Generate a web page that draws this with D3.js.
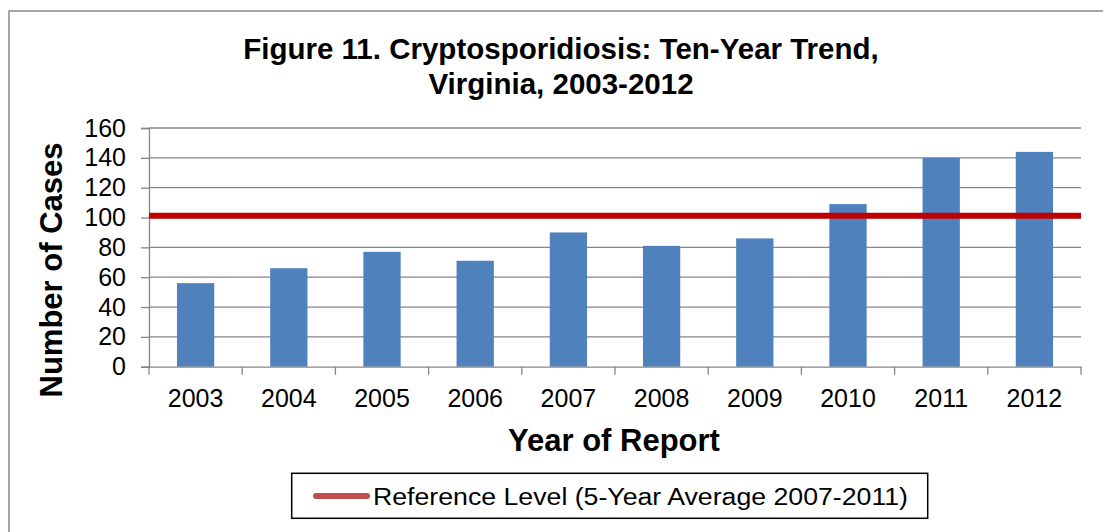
<!DOCTYPE html>
<html><head><meta charset="utf-8">
<script src="https://cdn.jsdelivr.net/npm/d3@7"></script>
<style>html,body{margin:0;padding:0;background:#fff;}svg{display:block;}</style>
</head><body>
<svg id="chart" width="1103" height="532"></svg>
<script>
const years = ["2003","2004","2005","2006","2007","2008","2009","2010","2011","2012"];
const cases = [56, 66, 77, 71, 90, 81, 86, 109, 140, 144];
const referenceLevel = 101.2;
const yTicks = [0, 20, 40, 60, 80, 100, 120, 140, 160];
const titleLines = ["Figure 11. Cryptosporidiosis: Ten-Year Trend,", "Virginia, 2003-2012"];
const legendLabel = "Reference Level (5-Year Average 2007-2011)";

const svg = d3.select("#chart");
const font = "Liberation Sans, Arial, sans-serif";
const L = 149, R = 1081, T = 128, B = 366.7;

// outer border
svg.append("rect").attr("x", 9).attr("y", 11).attr("width", 1110).attr("height", 540)
  .attr("fill", "none").attr("stroke", "#898989").attr("stroke-width", 1.5);

const x = d3.scaleBand().domain(years).range([L, R]).paddingInner(0.6).paddingOuter(0.3);
const xb = d3.scaleBand().domain(years).range([L, R]);
const y = d3.scaleLinear().domain([0, 160]).range([B, T]);

// gridlines
svg.append("g").selectAll("line").data(yTicks.filter(d => d > 0)).join("line")
  .attr("x1", L).attr("x2", R).attr("y1", d => y(d)).attr("y2", d => y(d))
  .attr("stroke", "#868686").attr("stroke-width", 1.3);

// y axis
const yAxis = svg.append("g").attr("transform", `translate(${L},0)`)
  .call(d3.axisLeft(y).tickValues(yTicks).tickSize(8).tickPadding(15));
yAxis.select(".domain").attr("stroke", "#868686").attr("stroke-width", 1.3);
yAxis.selectAll(".tick line").attr("stroke", "#868686").attr("stroke-width", 1.3);
yAxis.selectAll("text").attr("font-family", font).attr("font-size", 25).attr("fill", "#000");

// bars
svg.append("g").selectAll("rect").data(years).join("rect")
  .attr("x", d => x(d)).attr("width", x.bandwidth())
  .attr("y", (d, i) => y(cases[i])).attr("height", (d, i) => B - y(cases[i]))
  .attr("fill", "#4F81BD");

// x axis
const xAxis = svg.append("g").attr("transform", `translate(0,${B})`)
  .call(d3.axisBottom(xb).tickSize(0).tickPadding(23));
xAxis.select(".domain").attr("stroke", "#868686").attr("stroke-width", 1.3);
xAxis.selectAll("text").attr("font-family", font).attr("font-size", 25).attr("fill", "#000");
// tick marks at band boundaries
const bounds = years.map(d => xb(d)).concat([xb(years[years.length-1]) + xb.bandwidth()]);
xAxis.append("g").selectAll("line").data(bounds).join("line")
  .attr("x1", d => d).attr("x2", d => d).attr("y1", 0).attr("y2", 8)
  .attr("stroke", "#868686").attr("stroke-width", 1.3);

// reference line
svg.append("line").attr("x1", L).attr("x2", R)
  .attr("y1", y(referenceLevel)).attr("y2", y(referenceLevel))
  .attr("stroke", "#C00000").attr("stroke-width", 6);

// title
svg.append("g").selectAll("text").data(titleLines).join("text")
  .attr("x", 561).attr("y", (d, i) => 58.5 + i * 35)
  .attr("text-anchor", "middle").attr("font-family", font).attr("font-weight", "bold")
  .attr("font-size", 29.5).attr("fill", "#000").text(d => d);

// axis titles
svg.append("text").attr("x", 614).attr("y", 451).attr("text-anchor", "middle")
  .attr("font-family", font).attr("font-weight", "bold").attr("font-size", 31)
  .attr("fill", "#000").text("Year of Report");
svg.append("text").attr("transform", "translate(61.5,270) rotate(-90)").attr("text-anchor", "middle")
  .attr("font-family", font).attr("font-weight", "bold").attr("font-size", 31)
  .attr("fill", "#000").text("Number of Cases");

// legend
const lg = svg.append("g");
lg.append("rect").attr("x", 291.7).attr("y", 473.3).attr("width", 636).attr("height", 45)
  .attr("fill", "#fff").attr("stroke", "#000").attr("stroke-width", 1.5);
lg.append("line").attr("x1", 316).attr("x2", 367).attr("y1", 496).attr("y2", 496)
  .attr("stroke", "#C0504D").attr("stroke-width", 6).attr("stroke-linecap", "round");
lg.append("text").attr("x", 373).attr("y", 505).attr("font-family", font).attr("font-size", 23)
  .attr("textLength", 535).attr("lengthAdjust", "spacingAndGlyphs")
  .attr("fill", "#000").text(legendLabel);
</script>
</body></html>
